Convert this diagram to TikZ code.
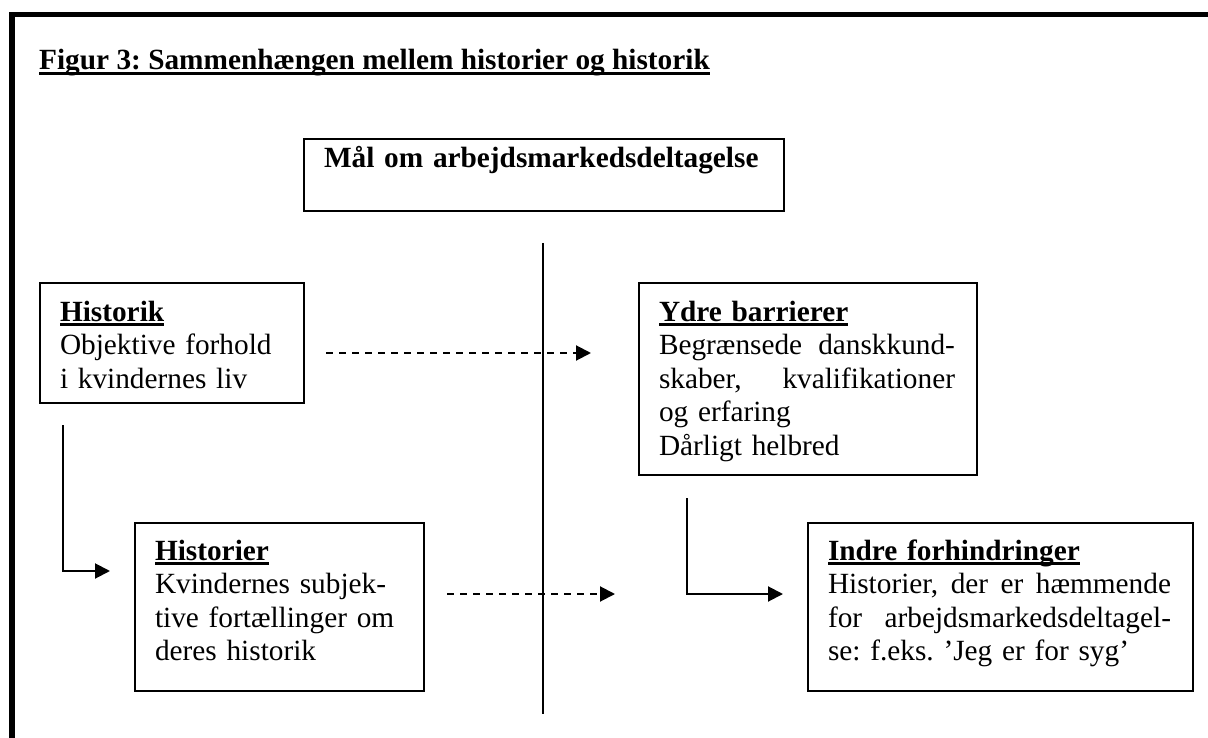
\documentclass[tikz,border=0pt]{standalone}
\usepackage{fontspec}
\setmainfont{Liberation Serif}
\usetikzlibrary{arrows.meta}

\newcommand\brodtekst{\fontsize{29.3pt}{33.6pt}\selectfont\frenchspacing}
\newcommand\understreg[1]{\setbox0\hbox{#1}\rlap{\rule[-5pt]{\wd0}{2.6pt}}\box0}
\newcommand\fuldlinje[2]{\leavevmode\hbox to #1{#2}}

\begin{document}
\begin{tikzpicture}[
    x=1pt, y=-1pt,
    boks/.style={
        rectangle,
        draw,
        line width=2pt,
        anchor=north west,
        align=left,
        inner xsep=20pt,
        inner ysep=0pt,
        font=\brodtekst
    },
    pil/.style={-{Triangle[length=15pt, width=15pt]}, line width=2pt},
    stiplet/.style={pil, dash pattern=on 7pt off 6pt}
]

\useasboundingbox (0,0) rectangle (1208,738);
\draw[line width=5.5pt] (12,738) -- (12,14.5) -- (1208,14.5);

\node[anchor=base west, inner sep=0pt, font=\brodtekst\bfseries] (titel) at (39,70)
    {\understreg{Figur 3: Sammenhængen mellem historier og historik}};

\node[boks, font=\brodtekst\bfseries, text width=440pt, text height=29pt, text depth=43pt] (maal) at (303,138)
    {Mål om arbejdsmarkedsdeltagelse};
\node[boks, text width=224pt, text height=38pt, text depth=82pt] (historik) at (39,282)
    {\understreg{\textbf{Historik}}\\Objektive forhold\\i kvindernes liv};
\node[boks, text width=298pt, text height=38pt, text depth=154pt] (ydre) at (638,282)
    {\understreg{\textbf{Ydre barrierer}}\\
     \fuldlinje{296pt}{Begrænsede\hfill danskkund-}\\
     \fuldlinje{296pt}{skaber,\hfill kvalifikationer}\\
     og erfaring\\Dårligt helbred};
\node[boks, text width=249pt, text height=37pt, text depth=131pt] (historier) at (134,522)
    {\understreg{\textbf{Historier}}\\Kvindernes subjek-\\tive fortællinger om\\deres historik};
\node[boks, text width=345pt, text height=37pt, text depth=131pt] (indre) at (807,522)
    {\understreg{\textbf{Indre forhindringer}}\\
     \fuldlinje{343pt}{Historier,\hfill der\hfill er\hfill hæmmende}\\
     \fuldlinje{343pt}{for\hfill arbejdsmarkedsdeltagel-}\\
     se: f.eks. ’Jeg er for syg’};

\coordinate (skel-top) at (543,243);
\coordinate (skel-bund) at (543,714);
\coordinate (p1-start) at (326,353);
\coordinate (p1-slut) at (591,353);
\coordinate (p2-start) at (447,594);
\coordinate (p2-slut) at (615,594);
\coordinate (k1-start) at (63,425);
\coordinate (k1-slut) at (110,571);
\coordinate (k2-start) at (687,498);
\coordinate (k2-slut) at (783,594);

\draw[line width=2pt] (skel-top) -- (skel-bund);
\draw[stiplet] (p1-start) -- (p1-slut);
\draw[stiplet] (p2-start) -- (p2-slut);
\draw[pil] (k1-start) |- (k1-slut);
\draw[pil] (k2-start) |- (k2-slut);

\end{tikzpicture}
\end{document}
